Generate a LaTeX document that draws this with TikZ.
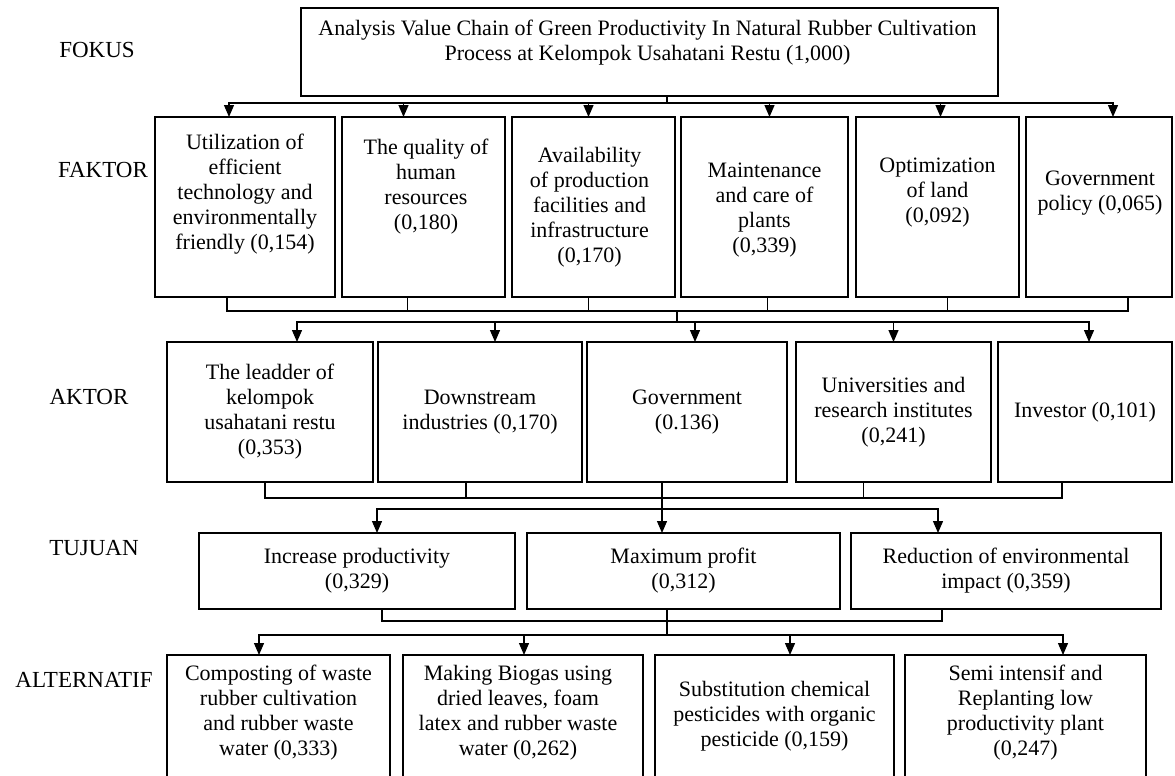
\documentclass[tikz,border=0pt]{standalone}
\usepackage{fontspec}
\setmainfont{Liberation Serif}
\usetikzlibrary{arrows.meta,positioning}

\begin{document}
\begin{tikzpicture}[x=1pt,y=-1pt,>={Triangle[width=10pt,length=12pt]},
    font=\fontsize{22}{25}\selectfont,
    box/.style={draw, line width=1.7pt, align=center, inner sep=0pt, outer sep=0pt},
    faktor/.style={box, minimum height=180pt},
    aktor/.style={box, minimum height=140pt},
    tujuan/.style={box, minimum height=76pt},
    alternatif/.style={box, minimum height=140pt},
    txt/.style={align=center, inner sep=0pt},
    level/.style={font=\fontsize{23}{26}\selectfont},
    link/.style={line width=1.3pt}]
  \useasboundingbox (0,0) rectangle (1175,776);
  \clip (0,0) rectangle (1175,776);

  % level names
  \node[level] (lfokus)  at (97,50)  {FOKUS};
  \node[level] (lfaktor) at (103,170) {FAKTOR};
  \node[level] (laktor)  at (89,397) {AKTOR};
  \node[level] (ltujuan) at (94,548) {TUJUAN};
  \node[level] (lalt)    at (84,680) {ALTERNATIF};

  % focus
  \node[box, minimum width=697pt, minimum height=88pt] (focus) at (649.5,52) {};
  \node[txt] (focust) at ([xshift=-2pt,yshift=9.5pt]focus)
    {Analysis Value Chain of Green Productivity In Natural Rubber Cultivation\\
     Process at Kelompok Usahatani Restu (1,000)};

  % faktor
  \node[faktor, minimum width=180pt] (fak1) at (245,207) {};
  \node[faktor, minimum width=163pt, right=7pt of fak1] (fak2) {};
  \node[faktor, minimum width=163pt, right=7pt of fak2] (fak3) {};
  \node[faktor, minimum width=167pt, right=6pt of fak3] (fak4) {};
  \node[faktor, minimum width=163pt, right=8pt of fak4] (fak5) {};
  \node[faktor, minimum width=146pt, right=7pt of fak5] (fak6) {};
  \node[txt] (fak1t) at ([yshift=13pt]fak1)
    {Utilization of\\ efficient\\ technology and\\ environmentally\\ friendly (0,154)};
  \node[txt] (fak2t) at ([xshift=2.5pt,yshift=20.5pt]fak2)
    {The quality of\\ human\\ resources\\ (0,180)};
  \node[txt] (fak3t) at ([xshift=-4pt]fak3)
    {Availability\\ of production\\ facilities and\\ infrastructure\\ (0,170)};
  \node[txt] (fak4t) at ([yshift=-3pt]fak4)
    {Maintenance\\ and care of\\ plants\\ (0,339)};
  \node[txt] (fak5t) at ([yshift=14pt]fak5)
    {Optimization\\ of land\\ (0,092)};
  \node[txt] (fak6t) at ([xshift=1pt,yshift=14pt]fak6)
    {Government\\ policy (0,065)};

  % aktor
  \node[aktor, minimum width=206pt] (akt1) at (270,412)
    {The leadder of\\ kelompok\\ usahatani restu\\ (0,353)};
  \node[aktor, minimum width=204pt, right=5pt of akt1] (akt2)
    {Downstream\\ industries (0,170)};
  \node[aktor, minimum width=200pt, right=5pt of akt2] (akt3)
    {Government\\ (0.136)};
  \node[aktor, minimum width=195pt, right=9pt of akt3] (akt4)
    {Universities and\\ research institutes\\ (0,241)};
  \node[aktor, minimum width=174pt, right=7pt of akt4] (akt5)
    {Investor (0,101)};

  % tujuan
  \node[tujuan, minimum width=316pt] (tuj1) at (357,571)
    {Increase productivity\\ (0,329)};
  \node[tujuan, minimum width=313pt, right=12pt of tuj1] (tuj2)
    {Maximum profit\\ (0,312)};
  \node[tujuan, minimum width=310pt, right=11pt of tuj2] (tuj3)
    {Reduction of environmental\\ impact (0,359)};

  % alternatif
  \node[alternatif, minimum width=223pt] (alt1) at (278.5,725) {};
  \node[alternatif, minimum width=240pt, right=13pt of alt1] (alt2) {};
  \node[alternatif, minimum width=239pt, right=12pt of alt2] (alt3) {};
  \node[alternatif, minimum width=241pt, right=11pt of alt3] (alt4) {};
  \node[txt] (alt1t) at ([yshift=12.5pt]alt1)
    {Composting of waste\\ rubber cultivation\\ and rubber waste\\ water (0,333)};
  \node[txt] (alt2t) at ([xshift=-5pt,yshift=12.5pt]alt2)
    {Making Biogas using\\ dried leaves, foam\\ latex and rubber waste\\ water (0,262)};
  \node[txt] (alt3t) at ([yshift=8.5pt]alt3)
    {Substitution chemical\\ pesticides with organic\\ pesticide (0,159)};
  \node[txt] (alt4t) at ([yshift=12.5pt]alt4)
    {Semi intensif and\\ Replanting low\\ productivity plant\\ (0,247)};

  % focus -> faktor
  \coordinate (bus1) at (667,103);
  \draw[link] (focus.south -| bus1) -- (bus1);
  \foreach \n/\s in {fak1/-16,fak2/-20,fak3/-5,fak4/5,fak5/3,fak6/14}
    \draw[link,->] (bus1) -| ([xshift=\s pt]\n.north);

  % faktor -> aktor
  \coordinate (bus2) at (677,311);
  \coordinate (bus3) at (677,322);
  \foreach \n/\s in {fak1/-18,fak2/-16,fak3/-5,fak4/3,fak5/10,fak6/29}
    \draw[link] ([xshift=\s pt]\n.south) |- (bus2);
  \draw[link] (bus2) -- (bus3);
  \foreach \n/\s in {akt1/27,akt2/15,akt3/8,akt4/0,akt5/4}
    \draw[link,->] (bus3) -| ([xshift=\s pt]\n.north);

  % aktor -> tujuan
  \coordinate (bus4) at (662,498);
  \coordinate (bus5) at (662,509);
  \foreach \n/\s in {akt1/-5,akt2/-14,akt3/-25,akt4/-30,akt5/-23}
    \draw[link] ([xshift=\s pt]\n.south) |- (bus4);
  \draw[link,->] (bus4) -- (bus4 |- tuj2.north);
  \foreach \n/\s in {tuj1/20,tuj3/-68}
    \draw[link,->] (bus5) -| ([xshift=\s pt]\n.north);

  % tujuan -> alternatif
  \coordinate (bus6) at (667,621);
  \coordinate (bus7) at (667,635);
  \foreach \n/\s in {tuj1/25,tuj2/-16.5,tuj3/-64}
    \draw[link] ([xshift=\s pt]\n.south) |- (bus6);
  \draw[link] (bus6) -- (bus7);
  \foreach \n/\s in {alt1/-19.5,alt2/1,alt3/15.5,alt4/37.5}
    \draw[link,->] (bus7) -| ([xshift=\s pt]\n.north);
\end{tikzpicture}
\end{document}
